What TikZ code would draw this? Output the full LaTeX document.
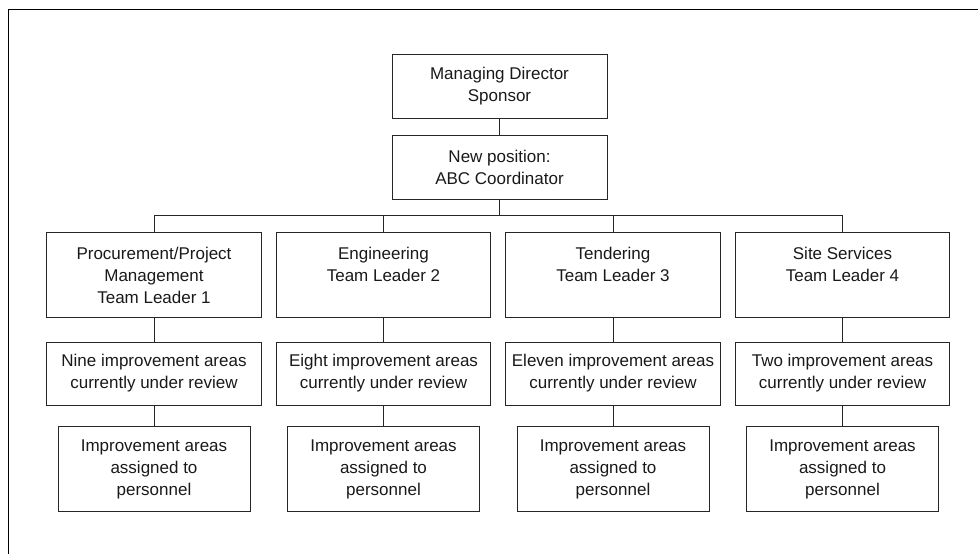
\documentclass[tikz,border=0pt]{standalone}
\usepackage{fontspec}
\setmainfont{Liberation Sans}
\begin{document}
\begin{tikzpicture}[x=1pt,y=-1pt,
    orgfont/.style={font=\fontsize{17}{22}\selectfont, text=black!90},
    box/.style={draw=black!85, line width=0.8pt, inner sep=0pt, align=center, orgfont},
    topbox/.style={box, minimum width=215pt, minimum height=64pt},
    leadbox/.style={box, minimum width=214.5pt, minimum height=84.5pt},
    reviewbox/.style={box, minimum width=214.5pt, minimum height=63pt},
    staffbox/.style={box, minimum width=192pt, minimum height=84.5pt},
    leadtext/.style={anchor=north, inner sep=0pt, yshift=-15pt, align=center, orgfont},
    link/.style={draw=black!85, line width=0.8pt}]
  \useasboundingbox (0,0) rectangle (978,554);
  \draw[line width=1.8pt] (8.5,554) -- (8.5,9.5) -- (978,9.5);

  % top of the chart
  \node[topbox] (director) at (499.5,86) {Managing Director\\Sponsor};
  \node[topbox] (coordinator) at (499.5,167.5) {New position:\\ABC Coordinator};
  \coordinate (bus) at (499.5,215.5);

  % team leaders
  \node[leadbox, label={[leadtext]north:Procurement/Project\\Management\\Team Leader 1}] (lead1) at (154,275) {};
  \node[leadbox, label={[leadtext]north:Engineering\\Team Leader 2}] (lead2) at (383.5,275) {};
  \node[leadbox, label={[leadtext]north:Tendering\\Team Leader 3}] (lead3) at (613,275) {};
  \node[leadbox, label={[leadtext]north:Site Services\\Team Leader 4}] (lead4) at (842.5,275) {};

  % areas under review
  \node[reviewbox] (review1) at (154,373.5) {Nine improvement areas\\currently under review};
  \node[reviewbox] (review2) at (383.5,373.5) {Eight improvement areas\\currently under review};
  \node[reviewbox] (review3) at (613,373.5) {Eleven improvement areas\\currently under review};
  \node[reviewbox] (review4) at (842.5,373.5) {Two improvement areas\\currently under review};

  % areas assigned
  \node[staffbox] (staff1) at (154,469) {Improvement areas\\assigned to\\personnel};
  \node[staffbox] (staff2) at (383.5,469) {Improvement areas\\assigned to\\personnel};
  \node[staffbox] (staff3) at (613,469) {Improvement areas\\assigned to\\personnel};
  \node[staffbox] (staff4) at (842.5,469) {Improvement areas\\assigned to\\personnel};

  \path[link] (director) -- (coordinator);
  \path[link] (coordinator.south) -- (bus);
  \path[link] (lead1.north) |- (bus) -| (lead4.north);
  \path[link] (lead2.north) -- (lead2.north |- bus);
  \path[link] (lead3.north) -- (lead3.north |- bus);

  \path[link] (lead1) -- (review1) -- (staff1);
  \path[link] (lead2) -- (review2) -- (staff2);
  \path[link] (lead3) -- (review3) -- (staff3);
  \path[link] (lead4) -- (review4) -- (staff4);
\end{tikzpicture}
\end{document}
